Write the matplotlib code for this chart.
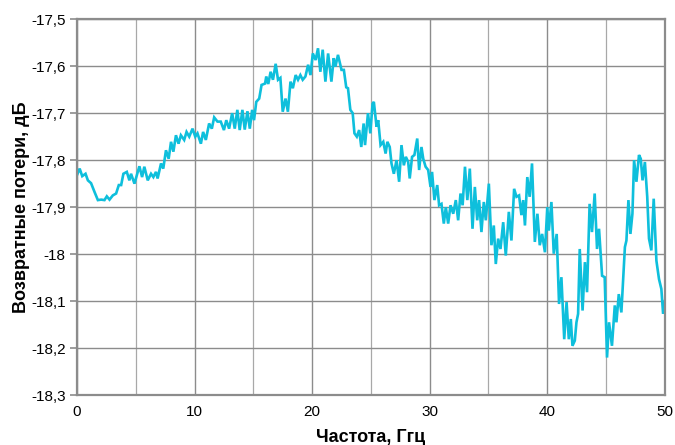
import matplotlib
matplotlib.use('Agg')
import matplotlib.pyplot as plt
from matplotlib import font_manager
from matplotlib.ticker import FuncFormatter, MultipleLocator

# Frequency (GHz) and return loss (dB)
freq = [0.0, 0.23, 0.45, 0.73, 0.93, 1.2, 1.5, 1.78, 2.06, 2.34, 2.54, 2.77, 3.05, 3.33, 3.56, 3.76,
        3.95, 4.24, 4.46, 4.6, 4.89, 5.31, 5.54, 5.73, 6.02, 6.3, 6.5, 6.72, 6.86, 7.15, 7.34, 7.57,
        7.8, 8.0, 8.2, 8.42, 8.64, 8.84, 9.12, 9.32, 9.55, 9.83, 10.06, 10.25, 10.54, 10.73, 10.96,
        11.24, 11.47, 11.67, 11.95, 12.23, 12.5, 12.7, 12.94, 13.2, 13.42, 13.64, 13.84, 14.07,
        14.27, 14.5, 14.7, 14.9, 15.06, 15.25, 15.5, 15.7, 16.0, 16.1, 16.27, 16.47, 16.67, 16.9,
        17.1, 17.3, 17.5, 17.74, 17.94, 18.16, 18.36, 18.6, 18.8, 19.0, 19.2, 19.43, 19.66, 19.86,
        20.06, 20.3, 20.5, 20.7, 20.9, 21.13, 21.36, 21.64, 21.84, 21.98, 22.2, 22.5, 22.7, 22.9,
        23.05, 23.25, 23.45, 23.6, 23.8, 24.0, 24.18, 24.38, 24.5, 24.75, 24.95, 25.14, 25.25,
        25.48, 25.62, 25.82, 26.05, 26.25, 26.4, 26.6, 26.75, 26.95, 27.18, 27.4, 27.6, 27.8,
        27.97, 28.17, 28.3, 28.5, 28.7, 28.94, 29.1, 29.3, 29.45, 29.65, 29.87, 30.07, 30.2, 30.4,
        30.64, 30.8, 31.0, 31.2, 31.37, 31.57, 31.77, 32.0, 32.22, 32.42, 32.62, 32.8, 33.0, 33.2,
        33.41, 33.64, 33.84, 34.04, 34.2, 34.4, 34.6, 34.77, 35.03, 35.25, 35.45, 35.62, 35.82,
        36.02, 36.25, 36.47, 36.73, 36.95, 37.18, 37.38, 37.6, 37.8, 37.95, 38.1, 38.3, 38.5, 38.7,
        38.94, 39.16, 39.36, 39.56, 39.8, 40.0, 40.13, 40.35, 40.55, 40.8, 41.0, 41.2, 41.44,
        41.64, 41.83, 42.0, 42.14, 42.34, 42.48, 42.62, 42.76, 43.0, 43.2, 43.38, 43.6, 43.8,
        44.03, 44.23, 44.4, 44.66, 44.88, 45.08, 45.25, 45.5, 45.74, 45.88, 46.08, 46.3, 46.6,
        46.73, 46.9, 47.07, 47.24, 47.38, 47.58, 47.8, 47.95, 48.1, 48.3, 48.5, 48.65, 48.85,
        49.05, 49.28, 49.5, 49.7, 49.85, 50.0]
loss = [-17.832, -17.818, -17.834, -17.829, -17.843, -17.849, -17.868, -17.885, -17.884, -17.885,
        -17.877, -17.884, -17.875, -17.871, -17.853, -17.853, -17.829, -17.825, -17.843, -17.829,
        -17.85, -17.813, -17.836, -17.814, -17.843, -17.829, -17.836, -17.825, -17.839, -17.807,
        -17.818, -17.779, -17.797, -17.761, -17.782, -17.747, -17.765, -17.747, -17.757, -17.74,
        -17.75, -17.733, -17.75, -17.743, -17.765, -17.74, -17.757, -17.722, -17.733, -17.709,
        -17.718, -17.718, -17.736, -17.715, -17.733, -17.7, -17.733, -17.693, -17.736, -17.693,
        -17.735, -17.696, -17.733, -17.693, -17.715, -17.676, -17.669, -17.64, -17.637, -17.622,
        -17.638, -17.612, -17.629, -17.595, -17.629, -17.625, -17.697, -17.669, -17.697, -17.633,
        -17.647, -17.619, -17.629, -17.619, -17.629, -17.622, -17.597, -17.619, -17.573, -17.587,
        -17.562, -17.612, -17.565, -17.633, -17.573, -17.633, -17.583, -17.601, -17.576, -17.608,
        -17.608, -17.645, -17.647, -17.693, -17.7, -17.743, -17.75, -17.736, -17.772, -17.722,
        -17.768, -17.7, -17.743, -17.68, -17.676, -17.729, -17.715, -17.768, -17.761, -17.786,
        -17.761, -17.772, -17.807, -17.829, -17.8, -17.846, -17.768, -17.811, -17.793, -17.804,
        -17.839, -17.793, -17.789, -17.754, -17.821, -17.772, -17.797, -17.814, -17.821, -17.857,
        -17.825, -17.885, -17.853, -17.896, -17.893, -17.935, -17.9, -17.935, -17.896, -17.914,
        -17.885, -17.928, -17.871, -17.896, -17.814, -17.885, -17.818, -17.946, -17.857, -17.928,
        -17.885, -17.953, -17.889, -17.928, -17.85, -17.981, -17.939, -18.021, -17.967, -17.989,
        -17.932, -18.003, -17.91, -17.971, -17.861, -17.878, -17.875, -17.917, -17.885, -17.939,
        -17.836, -17.878, -17.807, -17.974, -17.914, -17.981, -17.957, -17.996, -17.9, -17.95,
        -17.889, -17.999, -17.957, -18.106, -18.049, -18.181, -18.102, -18.181, -18.138, -18.195,
        -18.184, -18.145, -18.127, -17.989, -18.12, -18.017, -18.081, -17.893, -17.953, -17.871,
        -17.989, -17.946, -18.046, -18.049, -18.22, -18.145, -18.195, -18.109, -18.145, -18.085,
        -18.124, -17.985, -17.971, -17.885, -17.957, -17.914, -17.8, -17.846, -17.789, -17.797,
        -17.843, -17.804, -17.878, -17.967, -17.992, -17.882, -18.014, -18.053, -18.074, -18.127,
        -18.1]

installed = {f.name for f in font_manager.fontManager.ttflist}
tick_font = 'Liberation Sans Narrow' if 'Liberation Sans Narrow' in installed else 'Liberation Sans'

fig = plt.figure(figsize=(6.75, 4.45), dpi=100)
ax = fig.add_axes([0.114, 0.112, 0.871, 0.845])

ax.plot(freq, loss, color='#0EBFDC', lw=1.9, solid_joinstyle='miter')

ax.set_xlim(0, 50)
ax.set_ylim(-18.3, -17.5)
ax.xaxis.set_major_locator(MultipleLocator(10))
ax.xaxis.set_minor_locator(MultipleLocator(5))
ax.yaxis.set_major_locator(MultipleLocator(0.1))

ax.grid(which='major', color='#8C8C8C', lw=1.0)
ax.grid(which='minor', axis='x', color='#A8A8A8', lw=0.9)
ax.set_axisbelow(True)

for s in ax.spines.values():
    s.set_color('#8C8C8C')
    s.set_linewidth(1.6)

fmt = FuncFormatter(lambda v, p: ('%g' % round(v, 1)).replace('.', ','))
ax.yaxis.set_major_formatter(fmt)
ax.tick_params(axis='y', length=5, width=1.2, color='#8C8C8C', pad=3)
ax.tick_params(axis='x', which='both', length=0, pad=7)
for lab in ax.get_xticklabels() + ax.get_yticklabels():
    lab.set_fontfamily(tick_font)
    lab.set_fontsize(11)

ax.set_xlabel('Частота, Ггц', fontsize=13, fontweight='bold', family='Liberation Sans')
ax.set_ylabel('Возвратные потери, дБ', fontsize=13, fontweight='bold', family='Liberation Sans')
ax.xaxis.set_label_coords(0.5, -0.09)
ax.yaxis.set_label_coords(-0.08, 0.5)

plt.savefig('out.png', dpi=100)
plt.close()
